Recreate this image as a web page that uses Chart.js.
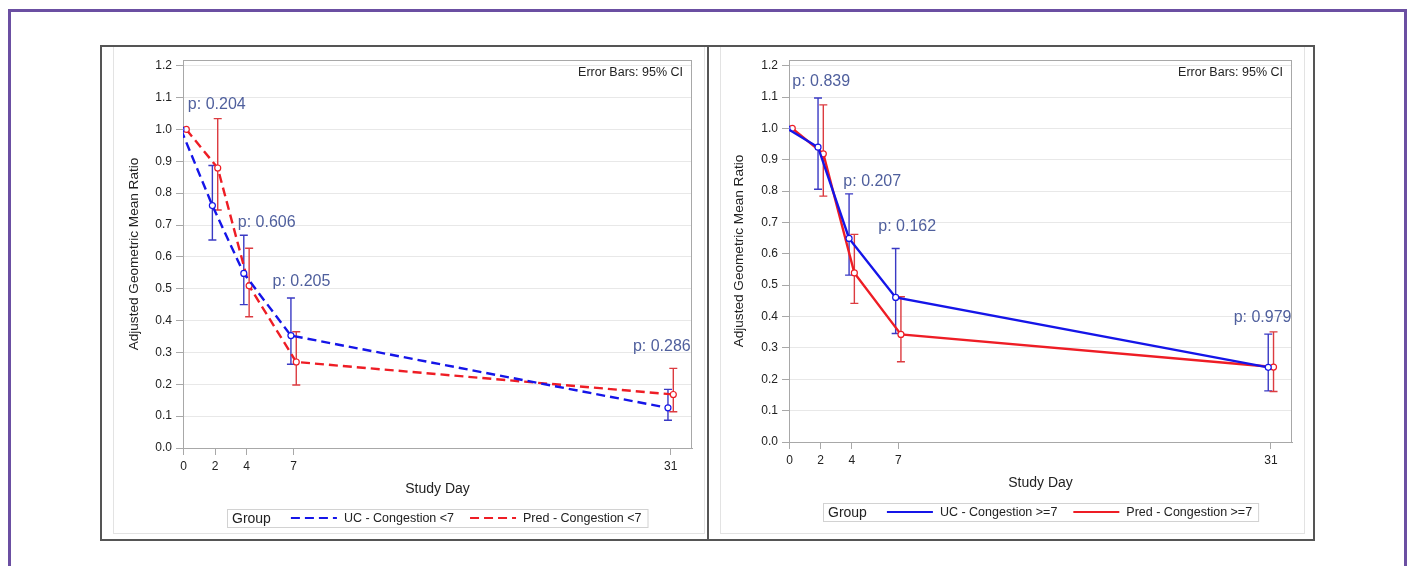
<!DOCTYPE html>
<html>
<head>
<meta charset="utf-8">
<script src="https://cdn.jsdelivr.net/npm/chart.js@4"></script>
<style>
  body { margin: 0; background: #fff; width: 1412px; height: 566px; overflow: hidden; position: relative; font-family: "Liberation Sans", Arial, sans-serif; }
  .frame { position: absolute; left: 8px; top: 9px; width: 1399px; height: 600px; border: 3px solid #6b4fa2; border-bottom: none; box-sizing: border-box; }
  .panel { position: absolute; top: 45px; height: 496px; border: 2px solid #555; box-sizing: border-box; background: #fff; }
  #panelL { left: 100px; width: 609px; }
  #panelR { left: 707px; width: 608px; }
  .inner { position: absolute; border: 1px solid #e3e3e3; border-top: none; top: 47px; height: 486px; }
  #innerL { left: 113px; width: 590px; }
  #innerR { left: 720px; width: 583px; }
  canvas { position: absolute; }
  #chartL { left: 102px; top: 47px; }
  #chartR { left: 709px; top: 47px; }
</style>
</head>
<body>
<div class="frame"></div>
<div class="panel" id="panelL"></div>
<div class="panel" id="panelR"></div>
<div class="inner" id="innerL"></div>
<div class="inner" id="innerR"></div>
<canvas id="chartL" width="604" height="491"></canvas>
<canvas id="chartR" width="603" height="491"></canvas>
<script>
// study days and tick labels
const days = [0, 2, 4, 7, 31];
const xTicks = [0, 2, 4, 7, 31];
const yTicks = [0, 0.1, 0.2, 0.3, 0.4, 0.5, 0.6, 0.7, 0.8, 0.9, 1.0, 1.1, 1.2];

// congestion < 7
const ucLowMean = [1.0, 0.761, 0.548, 0.353, 0.126];
const ucLowLo = [null, 0.653, 0.450, 0.263, 0.087];
const ucLowHi = [null, 0.887, 0.668, 0.471, 0.184];
const predLowMean = [1.0, 0.879, 0.509, 0.270, 0.168];
const predLowLo = [null, 0.747, 0.412, 0.198, 0.114];
const predLowHi = [null, 1.034, 0.627, 0.365, 0.250];
const pLowText = ['p: 0.204', 'p: 0.606', 'p: 0.205', 'p: 0.286'];

// congestion >= 7
const ucHighMean = [1.0, 0.940, 0.649, 0.461, 0.238];
const ucHighLo = [null, 0.806, 0.532, 0.346, 0.163];
const ucHighHi = [null, 1.097, 0.791, 0.617, 0.344];
const predHighMean = [1.0, 0.919, 0.539, 0.343, 0.239];
const predHighLo = [null, 0.784, 0.442, 0.256, 0.161];
const predHighHi = [null, 1.075, 0.662, 0.463, 0.351];
const pHighText = ['p: 0.839', 'p: 0.207', 'p: 0.162', 'p: 0.979'];

// where the p-value labels sit (day, ratio)
const pLowAt = [[0.27, 1.077], [3.45, 0.709], [5.66, 0.521], [28.6, 0.318]];
const pHighAt = [[0.17, 1.15], [3.46, 0.829], [5.71, 0.686], [28.6, 0.397]];

const FONT = '"Liberation Sans", Arial, sans-serif';
const BLUE = '#1515e8', RED = '#ee1d25';
const BLUE_ERR = '#3a3ac4', RED_ERR = '#dc3b40';
const SHIFT = 0.17;

function series(label, mean, color, dash, shift) {
    return {
        label,
        data: days.map((d, i) => ({ x: d + shift, y: mean[i] })),
        borderColor: color,
        borderWidth: 2.4,
        borderDash: dash,
        pointRadius: 3,
        pointBorderWidth: 1.2,
        pointBackgroundColor: '#fff',
        pointBorderColor: color,
        tension: 0,
        fill: false
    };
}

const errorBars = {
    id: 'errorBars',
    beforeDatasetsDraw(chart, args, opts) {
        const { ctx, chartArea: a, scales: { x, y } } = chart;
        ctx.save();
        // plot frame
        ctx.strokeStyle = '#a8a8a8';
        ctx.lineWidth = 1;
        ctx.strokeRect(a.left + 0.5, a.top + 0.5, a.right - a.left - 1, a.bottom - a.top);
        ctx.lineWidth = 1.4;
        opts.bars.forEach(b => {
            ctx.strokeStyle = b.color;
            days.forEach((d, i) => {
                if (b.lo[i] == null) return;
                const px = x.getPixelForValue(d + b.shift);
                const top = y.getPixelForValue(b.hi[i]);
                const bot = y.getPixelForValue(b.lo[i]);
                ctx.beginPath();
                ctx.moveTo(px, top); ctx.lineTo(px, bot);
                ctx.moveTo(px - 4, top); ctx.lineTo(px + 4, top);
                ctx.moveTo(px - 4, bot); ctx.lineTo(px + 4, bot);
                ctx.stroke();
            });
        });
        ctx.restore();
    }
};

const annotations = {
    id: 'annotations',
    afterDatasetsDraw(chart, args, opts) {
        const { ctx, chartArea: a, scales: { x, y } } = chart;
        ctx.save();
        ctx.textBaseline = 'middle';

        ctx.fillStyle = '#4f5f9d';
        ctx.font = '16px ' + FONT;
        ctx.textAlign = 'left';
        opts.pText.forEach((t, i) => {
            ctx.fillText(t, x.getPixelForValue(opts.pAt[i][0]), y.getPixelForValue(opts.pAt[i][1]));
        });

        ctx.fillStyle = '#222';
        ctx.font = '12.5px ' + FONT;
        ctx.textAlign = 'right';
        ctx.fillText('Error Bars: 95% CI', a.right - 9, a.top + 13);

        // legend
        ctx.textAlign = 'left';
        ctx.font = '14px ' + FONT;
        const wGroup = ctx.measureText('Group').width;
        ctx.font = '12.5px ' + FONT;
        const w1 = ctx.measureText(opts.labels[0]).width;
        const w2 = ctx.measureText(opts.labels[1]).width;
        const total = 5 + wGroup + 20 + 46 + 7 + w1 + 16 + 46 + 7 + w2 + 6;
        let lx = Math.round((a.left + a.right) / 2 - total / 2);
        const yc = Math.round(a.bottom + 70);
        ctx.strokeStyle = '#d2d2d2';
        ctx.lineWidth = 1;
        ctx.strokeRect(lx + 0.5, yc - 9 + 0.5, total, 18);

        ctx.fillStyle = '#222';
        ctx.font = '14px ' + FONT;
        ctx.fillText('Group', lx + 5, yc + 1);
        lx += 5 + wGroup + 20;
        ctx.font = '12.5px ' + FONT;
        [[BLUE, w1], [RED, w2]].forEach(([c, w], k) => {
            ctx.strokeStyle = c;
            ctx.lineWidth = 2.2;
            ctx.setLineDash(opts.dash);
            ctx.beginPath();
            ctx.moveTo(lx, yc); ctx.lineTo(lx + 46, yc);
            ctx.stroke();
            ctx.setLineDash([]);
            ctx.fillStyle = '#222';
            ctx.fillText(opts.labels[k], lx + 53, yc + 1);
            lx += 46 + 7 + w + 16;
        });
        ctx.restore();
    }
};

function makeChart(id, o) {
    const ctx = document.getElementById(id).getContext('2d');
    return new Chart(ctx, {
        type: 'line',
        data: {
            datasets: [
                series(o.labels[0], o.ucMean, BLUE, o.dash, -SHIFT),
                series(o.labels[1], o.predMean, RED, o.dash, SHIFT)
            ]
        },
        plugins: [errorBars, annotations],
        options: {
            responsive: false,
            animation: false,
            layout: { padding: { left: 0, top: 13, right: o.padRight, bottom: o.padBottom } },
            plugins: {
                legend: { display: false },
                tooltip: { enabled: false },
                errorBars: {
                    bars: [
                        { lo: o.ucLo, hi: o.ucHi, color: BLUE_ERR, shift: -SHIFT },
                        { lo: o.predLo, hi: o.predHi, color: RED_ERR, shift: SHIFT }
                    ]
                },
                annotations: { pText: o.pText, pAt: o.pAt, labels: o.labels, dash: o.dash }
            },
            scales: {
                x: {
                    type: 'linear',
                    min: -0.04,
                    max: 32.36,
                    afterBuildTicks: s => { s.ticks = xTicks.map(v => ({ value: v })); },
                    afterFit: s => { s.height = 50; },
                    ticks: { autoSkip: false, maxRotation: 0, padding: 4, color: '#222', font: { family: FONT, size: 12 } },
                    grid: { drawOnChartArea: false, tickLength: 7, tickColor: '#a8a8a8' },
                    border: { color: '#a8a8a8' },
                    title: { display: true, text: 'Study Day', color: '#222', padding: { top: 0, bottom: 0 }, font: { family: FONT, size: 14 } }
                },
                y: {
                    min: 0,
                    max: 1.218,
                    afterBuildTicks: s => { s.ticks = yTicks.map(v => ({ value: v })); },
                    afterFit: s => { s.width = o.yWidth; },
                    ticks: { padding: 4, color: '#222', font: { family: FONT, size: 12 }, callback: v => v.toFixed(1) },
                    grid: { color: '#e8e8e8', tickLength: 7, tickColor: '#a8a8a8' },
                    border: { color: '#a8a8a8' },
                    title: { display: true, text: 'Adjusted Geometric Mean Ratio', color: '#222', padding: { top: o.titlePad, bottom: 0 }, font: { family: FONT, size: 13.6 } }
                }
            }
        }
    });
}

makeChart('chartL', {
    labels: ['UC - Congestion <7', 'Pred - Congestion <7'],
    ucMean: ucLowMean, ucLo: ucLowLo, ucHi: ucLowHi,
    predMean: predLowMean, predLo: predLowLo, predHi: predLowHi,
    pText: pLowText, pAt: pLowAt,
    dash: [9, 5],
    padRight: 14, padBottom: 40, yWidth: 81, titlePad: 24
});

makeChart('chartR', {
    labels: ['UC - Congestion >=7', 'Pred - Congestion >=7'],
    ucMean: ucHighMean, ucLo: ucHighLo, ucHi: ucHighHi,
    predMean: predHighMean, predLo: predHighLo, predHi: predHighHi,
    pText: pHighText, pAt: pHighAt,
    dash: [],
    padRight: 20, padBottom: 46, yWidth: 80, titlePad: 22
});
</script>
</body>
</html>
